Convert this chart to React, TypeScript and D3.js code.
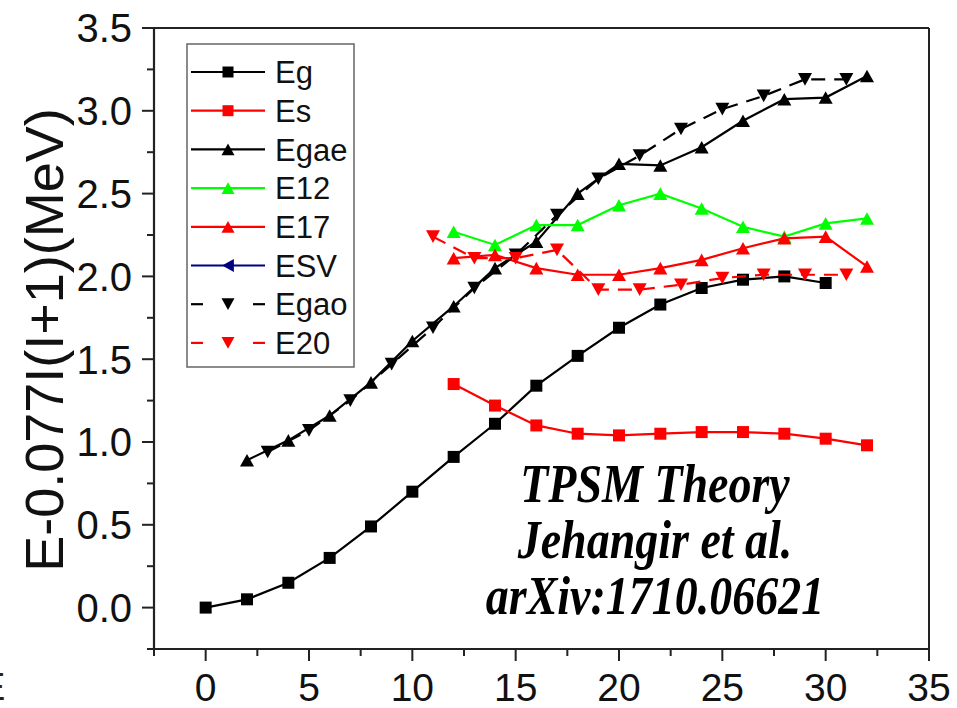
import React from "react";
import * as d3 from "d3";

const I_Eg = [0, 2, 4, 6, 8, 10, 12, 14, 16, 18, 20, 22, 24, 26, 28, 30];
const Eg = [0.0, 0.05, 0.15, 0.3, 0.49, 0.7, 0.91, 1.11, 1.34, 1.52, 1.69, 1.83, 1.93, 1.98, 2.0, 1.96];
const I_Es = [12, 14, 16, 18, 20, 22, 24, 26, 28, 30, 32];
const Es = [1.35, 1.22, 1.1, 1.05, 1.04, 1.05, 1.06, 1.06, 1.05, 1.02, 0.98];
const I_Egae = [2, 4, 6, 8, 10, 12, 14, 16, 18, 20, 22, 24, 26, 28, 30, 32];
const Egae = [0.89, 1.01, 1.16, 1.36, 1.61, 1.82, 2.05, 2.21, 2.5, 2.68, 2.67, 2.78, 2.94, 3.07, 3.08, 3.21];
const I_E12 = [12, 14, 16, 18, 20, 22, 24, 26, 28, 30, 32];
const E12 = [2.27, 2.19, 2.31, 2.31, 2.43, 2.5, 2.41, 2.3, 2.24, 2.32, 2.35];
const I_E17 = [12, 14, 16, 18, 20, 22, 24, 26, 28, 30, 32];
const E17 = [2.11, 2.13, 2.05, 2.01, 2.01, 2.05, 2.1, 2.17, 2.23, 2.24, 2.06];
const I_ESV: number[] = [];
const ESV: number[] = [];
const I_Egao = [3, 5, 7, 9, 11, 13, 15, 17, 19, 21, 23, 25, 27, 29, 31];
const Egao = [0.94, 1.07, 1.25, 1.47, 1.69, 1.93, 2.13, 2.37, 2.59, 2.73, 2.89, 3.01, 3.09, 3.19, 3.19];
const I_E20 = [11, 13, 15, 17, 19, 21, 23, 25, 27, 29, 31];
const E20 = [2.24, 2.11, 2.11, 2.16, 1.92, 1.92, 1.95, 1.99, 2.01, 2.01, 2.01];

const xTicks = [0, 5, 10, 15, 20, 25, 30, 35];
const yTicks = [0.0, 0.5, 1.0, 1.5, 2.0, 2.5, 3.0, 3.5];
const yTitle = "E-0.077I(I+1)(MeV)";
const notes = ["TPSM Theory", "Jehangir et al.", "arXiv:1710.06621"];

type Sym = "square" | "up" | "down" | "left";
interface Series { name: string; xs: number[]; ys: number[]; color: string; sym: Sym; dashed: boolean; }

const series: Series[] = [
  { name: "Eg", xs: I_Eg, ys: Eg, color: "#000000", sym: "square", dashed: false },
  { name: "Es", xs: I_Es, ys: Es, color: "#ff0000", sym: "square", dashed: false },
  { name: "Egae", xs: I_Egae, ys: Egae, color: "#000000", sym: "up", dashed: false },
  { name: "E12", xs: I_E12, ys: E12, color: "#00ff00", sym: "up", dashed: false },
  { name: "E17", xs: I_E17, ys: E17, color: "#ff0000", sym: "up", dashed: false },
  { name: "ESV", xs: I_ESV, ys: ESV, color: "#000080", sym: "left", dashed: false },
  { name: "Egao", xs: I_Egao, ys: Egao, color: "#000000", sym: "down", dashed: true },
  { name: "E20", xs: I_E20, ys: E20, color: "#ff0000", sym: "down", dashed: true },
];

function symPath(sym: Sym, s: number): string {
  const h = s / 2;
  const t = s * 0.45;
  switch (sym) {
    case "square":
      return `M${-h},${-h}H${h}V${h}H${-h}Z`;
    case "up":
      return `M0,${-t}L${h},${t}L${-h},${t}Z`;
    case "down":
      return `M0,${t}L${h},${-t}L${-h},${-t}Z`;
    case "left":
      return `M${-t},0L${t},${-h}L${t},${h}Z`;
  }
}

const W = 957;
const H = 708;
const L = 154, R = 929, T = 28, B = 649;

export default function App() {
  const x = d3.scaleLinear().domain([-2.5, 35]).range([L, R]);
  const y = d3.scaleLinear().domain([-0.25, 3.5]).range([B, T]);
  const line = d3.line<[number, number]>().x((d) => x(d[0])).y((d) => y(d[1]));
  const font = "'Liberation Sans', Arial, sans-serif";

  const xMinor = d3.range(-2.5, 35.01, 2.5).filter((v) => Math.abs(v % 5) > 0.01);
  const yMinor = d3.range(-0.25, 3.51, 0.5);

  const legX = 187, legY = 44, legW = 167, legH = 323;
  const rowY = (i: number) => 72 + i * 38.7;

  return (
    <svg width={W} height={H} style={{ position: "absolute", left: 0, top: 0, background: "#fff" }}>
      <rect x={0} y={0} width={W} height={H} fill="#fff" />
      {/* clipped glyph at far left */}
      <text x={-20} y={700} fontFamily={font} fontSize={38} fill="#222">E</text>

      {/* frame */}
      <line x1={L} y1={T} x2={R} y2={T} stroke="#222" strokeWidth={2} />
      <line x1={R} y1={T} x2={R} y2={B} stroke="#222" strokeWidth={2} />
      <line x1={L} y1={B} x2={R} y2={B} stroke="#222" strokeWidth={2.2} />
      <line x1={L} y1={T} x2={L} y2={B} stroke="#222" strokeWidth={2.2} />

      {/* y ticks */}
      {yTicks.map((v) => (
        <g key={"yt" + v}>
          <line x1={L - 12} x2={L} y1={y(v)} y2={y(v)} stroke="#222" strokeWidth={2} />
          <text x={132} y={y(v)} dy="0.36em" textAnchor="end" fontFamily={font} fontSize={40} fill="#111">
            {v.toFixed(1)}
          </text>
        </g>
      ))}
      {yMinor.map((v) => (
        <line key={"ym" + v} x1={L - 7} x2={L} y1={y(v)} y2={y(v)} stroke="#222" strokeWidth={2} />
      ))}

      {/* x ticks */}
      {xTicks.map((v) => (
        <g key={"xt" + v}>
          <line x1={x(v)} x2={x(v)} y1={B} y2={B + 12} stroke="#222" strokeWidth={2} />
          <text x={x(v)} y={B + 52} textAnchor="middle" fontFamily={font} fontSize={39} fill="#111">
            {v}
          </text>
        </g>
      ))}
      {xMinor.map((v) => (
        <line key={"xm" + v} x1={x(v)} x2={x(v)} y1={B} y2={B + 7} stroke="#222" strokeWidth={2} />
      ))}

      {/* y title */}
      <text
        transform={`translate(63,340) rotate(-90)`}
        textAnchor="middle"
        fontFamily={font}
        fontSize={54}
        fill="#111"
      >
        {yTitle}
      </text>

      {/* series */}
      {series.map((s) => {
        const pts = s.xs.map((v, i) => [v, s.ys[i]] as [number, number]);
        return (
          <g key={s.name}>
            {pts.length > 1 && (
              <path
                d={line(pts) || ""}
                fill="none"
                stroke={s.color}
                strokeWidth={2.2}
                strokeDasharray={s.dashed ? "14,9" : undefined}
              />
            )}
            {pts.map((p, i) => (
              <path
                key={i}
                d={symPath(s.sym, s.sym === "square" ? 12 : 14)}
                transform={`translate(${x(p[0])},${y(p[1])})`}
                fill={s.color}
              />
            ))}
          </g>
        );
      })}

      {/* legend */}
      <rect x={legX} y={legY} width={legW} height={legH} fill="#fff" stroke="#666" strokeWidth={1.5} />
      {series.map((s, i) => (
        <g key={"lg" + s.name}>
          {s.dashed ? (
            <>
              <line x1={191} x2={203} y1={rowY(i)} y2={rowY(i)} stroke={s.color} strokeWidth={2.2} />
              <line x1={253} x2={265} y1={rowY(i)} y2={rowY(i)} stroke={s.color} strokeWidth={2.2} />
            </>
          ) : (
            <line x1={191} x2={265} y1={rowY(i)} y2={rowY(i)} stroke={s.color} strokeWidth={2.2} />
          )}
          <path
            d={symPath(s.sym, s.sym === "square" ? 11 : 13)}
            transform={`translate(228,${rowY(i)})`}
            fill={s.color}
          />
          <text x={275} y={rowY(i)} dy="0.36em" fontFamily={font} fontSize={31} fill="#111">
            {s.name}
          </text>
        </g>
      ))}

      {/* annotation */}
      {notes.map((t, i) => (
        <text
          key={t}
          transform={`translate(655,${502 + i * 56}) scale(1,1.2)`}
          textAnchor="middle"
          fontFamily="'Liberation Serif', 'Times New Roman', serif"
          fontStyle="italic"
          fontWeight="bold"
          fontSize={46}
          fill="#000"
        >
          {t}
        </text>
      ))}
    </svg>
  );
}
